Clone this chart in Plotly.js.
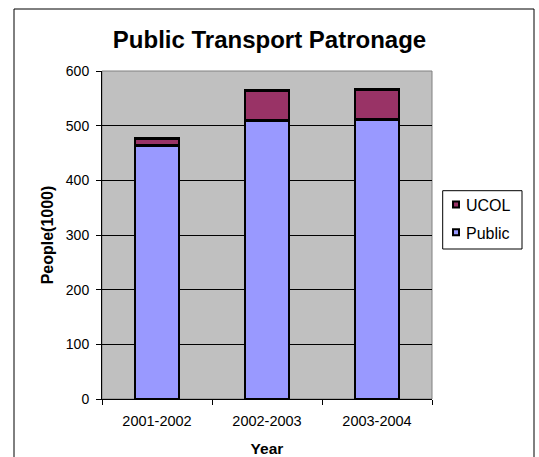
<!DOCTYPE html>
<html>
<head>
<meta charset="utf-8">
<script src="https://cdn.plot.ly/plotly-3.0.1.min.js"></script>
<style>
  html, body { margin: 0; padding: 0; background: #ffffff; }
  #chart { width: 539px; height: 457px; }
</style>
</head>
<body>
<div id="chart"></div>
<script>
// Patronage per year, in thousands of people
const years = ['2001-2002', '2002-2003', '2003-2004'];
const publicRiders = [463, 510, 511];
const ucolRiders = [14, 55, 55];
const seriesNames = ['Public', 'UCOL'];
const seriesColors = ['#9999FF', '#993366'];
const yTicks = [0, 100, 200, 300, 400, 500, 600];

const FONT = 'Liberation Sans, Arial, sans-serif';

// plot-area box in pixels (left, right, top, bottom)
const PL = 102, PR = 432, PT = 71, PB = 399;
const px = v => (v - PL) / (PR - PL);
const py = v => (PB - v) / (PB - PT);

const traces = [publicRiders, ucolRiders].map((vals, i) => ({
  type: 'bar',
  name: seriesNames[i],
  x: years,
  y: vals,
  width: 0.4,
  marker: { color: seriesColors[i], line: { color: '#000000', width: 2.8 } },
  showlegend: false,
  hoverinfo: 'x+y+name'
}));

// Legend box drawn in paper space, UCOL listed above Public
const legendRows = [
  { name: seriesNames[1], color: seriesColors[1], cy: 204.5 },
  { name: seriesNames[0], color: seriesColors[0], cy: 232.3 }
];

const shapes = [
  // plot-area frame
  { type: 'rect', xref: 'paper', yref: 'paper', x0: 0, x1: 1, y0: 0, y1: 1,
    line: { color: '#808080', width: 1 }, layer: 'below' },
  // chart-area frame
  { type: 'rect', xref: 'paper', yref: 'paper',
    x0: px(14), x1: px(534), y0: py(470), y1: py(9),
    line: { color: '#000000', width: 1 }, layer: 'below' },
  // legend frame
  { type: 'rect', xref: 'paper', yref: 'paper',
    x0: px(442.7), x1: px(522), y0: py(249), y1: py(190.7),
    fillcolor: '#ffffff', line: { color: '#000000', width: 1 }, layer: 'above' }
];
const annotations = [];
legendRows.forEach(r => {
  shapes.push({
    type: 'rect', xref: 'paper', yref: 'paper',
    x0: px(453), x1: px(459), y0: py(r.cy + 3), y1: py(r.cy - 3),
    fillcolor: r.color, line: { color: '#000000', width: 2 }, layer: 'above'
  });
  annotations.push({
    xref: 'paper', yref: 'paper', x: px(464), y: py(r.cy + 1),
    xanchor: 'left', yanchor: 'middle', showarrow: false,
    text: r.name, font: { family: FONT, size: 16, color: '#000000' }
  });
});

const layout = {
  width: 539,
  height: 457,
  margin: { l: PL, r: 539 - PR, t: PT, b: 457 - PB, pad: 0 },
  paper_bgcolor: '#ffffff',
  plot_bgcolor: '#C0C0C0',
  barmode: 'stack',
  showlegend: false,
  font: { family: FONT, color: '#000000', size: 14 },
  title: {
    text: '<b>Public Transport Patronage</b>',
    font: { family: FONT, size: 24, color: '#000000' },
    xref: 'container', x: 0.5, xanchor: 'center',
    yref: 'container', y: 1 - 40 / 457, yanchor: 'middle'
  },
  xaxis: {
    type: 'category',
    showgrid: false,
    showline: true, linecolor: '#000000', linewidth: 1,
    ticks: 'outside', ticklen: 5, tickcolor: '#000000', tickwidth: 1,
    tickson: 'boundaries',
    ticklabelstandoff: 9,
    tickfont: { family: FONT, size: 14.5, color: '#000000' },
    title: { text: '<b>Year</b>', font: { family: FONT, size: 15.5, color: '#000000' }, standoff: 14 },
    fixedrange: true
  },
  yaxis: {
    range: [0, 600],
    tickvals: yTicks,
    showgrid: true, gridcolor: '#000000', gridwidth: 1,
    zeroline: false,
    showline: true, linecolor: '#000000', linewidth: 1,
    ticks: 'outside', ticklen: 5, tickcolor: '#000000', tickwidth: 1,
    ticklabelstandoff: 4,
    tickfont: { family: FONT, size: 14, color: '#000000' },
    title: { text: '<b>People(1000)</b>', font: { family: FONT, size: 16, color: '#000000' }, standoff: 8 },
    fixedrange: true
  },
  shapes: shapes,
  annotations: annotations
};

Plotly.newPlot('chart', traces, layout, { displayModeBar: false, staticPlot: true });
</script>
</body>
</html>
